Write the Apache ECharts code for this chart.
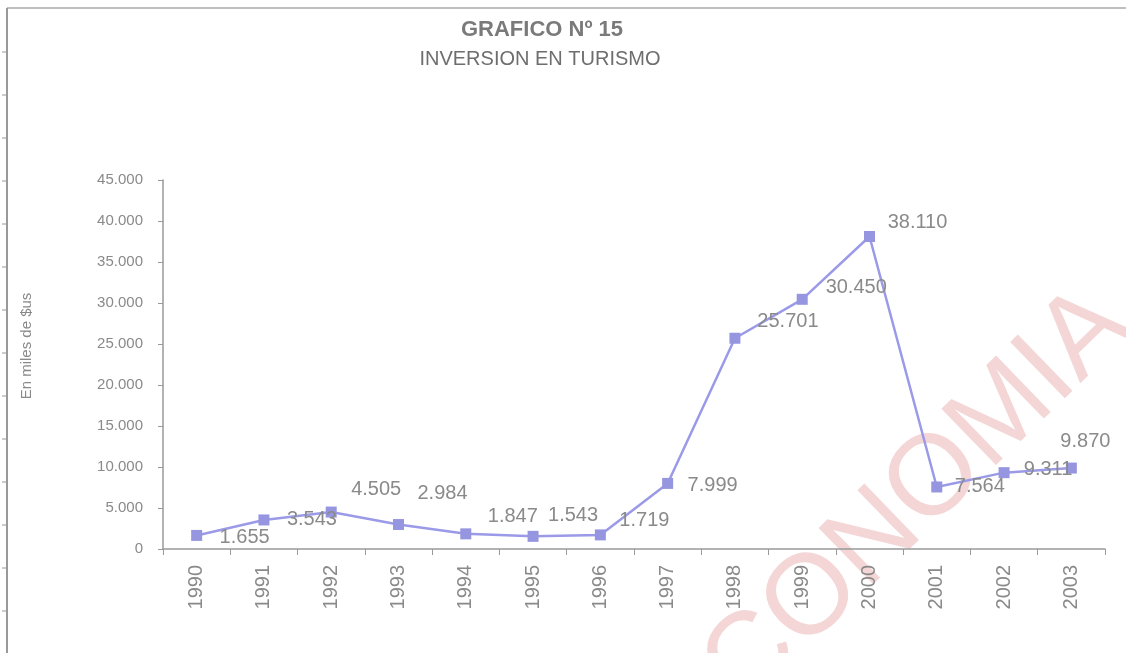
<!DOCTYPE html>
<html>
<head>
<meta charset="utf-8">
<script src="https://cdn.jsdelivr.net/npm/echarts@6/dist/echarts.min.js"></script>
<style>
  html, body { margin: 0; padding: 0; background: #fff; }
  #chart { width: 1126px; height: 653px; }
</style>
</head>
<body>
<div id="chart"></div>
<script>
// datos del grafico
var years = ['1990', '1991', '1992', '1993', '1994', '1995', '1996',
  '1997', '1998', '1999', '2000', '2001', '2002', '2003'];
var inversion = [1655, 3543, 4505, 2984, 1847, 1543, 1719,
  7999, 25701, 30450, 38110, 7564, 9311, 9870];
var yTicks = [0, 5000, 10000, 15000, 20000, 25000, 30000, 35000, 40000, 45000];

// desplazamiento de cada etiqueta respecto al punto (como en Excel)
var labelShift = [[48, 2], [48, 0], [45, -23], [44, -31], [47, -17], [40, -21], [44, -14],
  [45, 2], [53, -17], [54, -12], [48, -14], [43, 0], [44, -3], [14, -27]];

var gray = '#8a8a8a';

function miles(v) {
  return String(v).replace(/\B(?=(\d{3})+(?!\d))/g, '.');
}

var seriesData = inversion.map(function (v, i) {
  return {
    value: v,
    label: { offset: labelShift[i] }
  };
});

// marco de la hoja a la izquierda
var frame = [
  { type: 'line', shape: { x1: 7, y1: 8, x2: 1126, y2: 8 }, style: { stroke: '#aaa', lineWidth: 1.5 } },
  { type: 'line', shape: { x1: 7, y1: 8, x2: 7, y2: 653 }, style: { stroke: '#999', lineWidth: 2 } }
];
for (var k = 0; k < 14; k++) {
  var yy = 52 + 43 * k;
  frame.push({ type: 'line', shape: { x1: 2, y1: yy, x2: 7, y2: yy }, style: { stroke: '#999', lineWidth: 1 } });
}

var chart = echarts.init(document.getElementById('chart'));
chart.setOption({
  animation: false,
  backgroundColor: '#fff',
  title: [
    {
      text: 'GRAFICO Nº 15',
      left: 537,
      top: 14,
      textAlign: 'center',
      textStyle: { fontFamily: 'Liberation Sans', fontSize: 22, fontWeight: 'bold', color: '#7a7a7a' }
    },
    {
      text: 'INVERSION EN TURISMO',
      left: 535,
      top: 44,
      textAlign: 'center',
      textStyle: { fontFamily: 'Liberation Sans', fontSize: 20, fontWeight: 'normal', color: '#6e6e6e' }
    }
  ],
  graphic: frame.concat([
    {
      type: 'text',
      x: 27,
      y: 346,
      rotation: Math.PI / 2,
      style: {
        text: 'En miles de $us',
        fontFamily: 'Liberation Sans',
        fontSize: 15,
        fill: gray,
        align: 'center',
        verticalAlign: 'middle'
      }
    },
    {
      type: 'text',
      x: 890,
      y: 524,
      rotation: 0.77,
      z: -10,
      silent: true,
      style: {
        text: 'ECONOMIA',
        fontFamily: 'Liberation Sans',
        fontSize: 114,
        fill: 'rgba(220,120,120,0.3)',
        align: 'center',
        verticalAlign: 'middle'
      }
    }
  ]),
  grid: { left: 163, right: 21, top: 180, bottom: 104 },
  xAxis: {
    type: 'category',
    data: years,
    boundaryGap: true,
    axisLine: { lineStyle: { color: '#999', width: 1.5 } },
    axisTick: { show: true, length: 6, interval: 0, lineStyle: { color: '#999' } },
    axisLabel: {
      rotate: 90,
      interval: 0,
      margin: 16,
      fontFamily: 'Liberation Sans',
      fontSize: 20,
      color: gray
    },
    splitLine: { show: false }
  },
  yAxis: {
    type: 'value',
    min: yTicks[0],
    max: yTicks[yTicks.length - 1],
    interval: 5000,
    axisLine: { show: true, lineStyle: { color: '#999', width: 1.5 } },
    axisTick: { show: true, length: 5, lineStyle: { color: '#999' } },
    axisLabel: {
      margin: 20,
      fontFamily: 'Liberation Sans',
      fontSize: 15,
      color: gray,
      formatter: function (v) { return miles(v); }
    },
    splitLine: { show: false }
  },
  series: [
    {
      type: 'line',
      data: seriesData,
      symbol: 'rect',
      symbolSize: 11,
      itemStyle: { color: '#9696e0' },
      lineStyle: { color: '#9a9ae8', width: 2.5 },
      label: {
        show: true,
        position: 'inside',
        fontFamily: 'Liberation Sans',
        fontSize: 20,
        color: gray,
        formatter: function (p) { return miles(p.value); }
      }
    }
  ]
});
</script>
</body>
</html>
